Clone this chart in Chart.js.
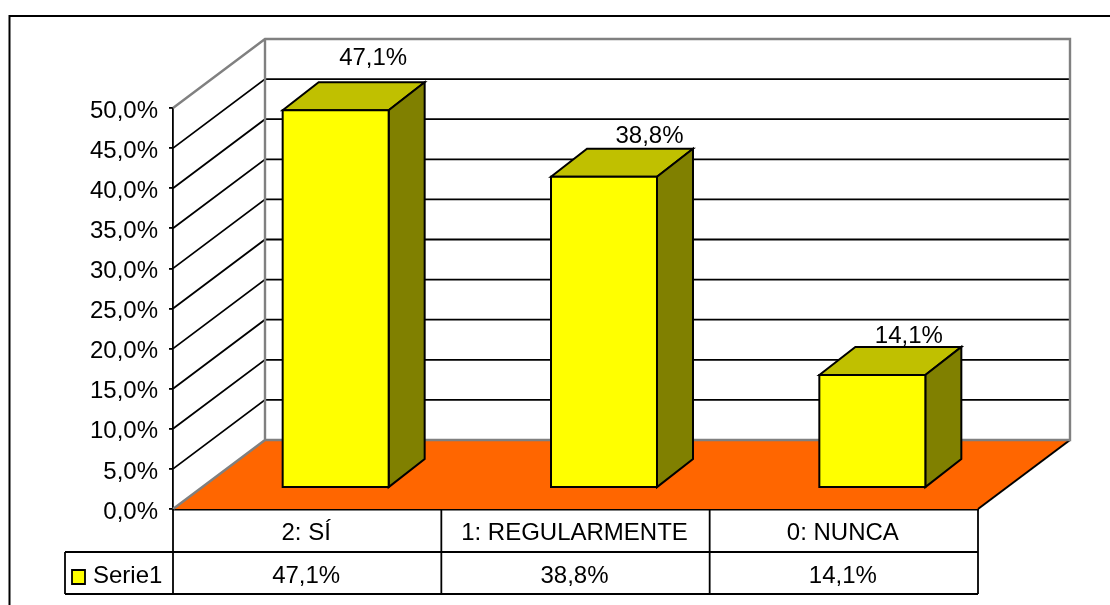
<!DOCTYPE html>
<html>
<head>
<meta charset="utf-8">
<style>
    html, body { margin: 0; padding: 0; background: #fff; overflow: hidden; }
    #box { position: relative; width: 1110px; height: 605px; }
</style>
<script src="https://cdn.jsdelivr.net/npm/chart.js@4"></script>
</head>
<body>
<div id="box"><canvas id="surveyChart" width="1110" height="605"></canvas></div>
<script>
'use strict';

const categories = ['2: SÍ', '1: REGULARMENTE', '0: NUNCA'];
const seriesName = 'Serie1';
const seriesValues = [47.1, 38.8, 14.1];
const yTicks = [0, 5, 10, 15, 20, 25, 30, 35, 40, 45, 50];

const FONT = '"Liberation Sans", Arial, sans-serif';
const FONT_SIZE = 24;

// how far the plot goes back into the page, and how far the bars sit in it
const DEPTH = { x: 92, y: -69 };
const BAR_SHIFT = { x: 28.5, y: -21 };
const BAR_DEPTH = { x: 36, y: -28 };
const BAR_LINE = 2;

// data labels were dragged around by hand in the original
const LABEL_NUDGE = [{ x: 37.5, y: -52 }, { x: 45.5, y: -40 }, { x: 36.5, y: -39 }];

function pct(v) {
    return v.toFixed(1).replace('.', ',') + '%';
}

function poly(ctx, pts, fill, stroke, width) {
    ctx.beginPath();
    pts.forEach((p, i) => {
        if (i === 0) ctx.moveTo(p[0], p[1]);
        else ctx.lineTo(p[0], p[1]);
    });
    ctx.closePath();
    if (fill) {
        ctx.fillStyle = fill;
        ctx.fill();
    }
    if (stroke) {
        ctx.strokeStyle = stroke;
        ctx.lineWidth = width;
        ctx.lineJoin = 'miter';
        ctx.stroke();
    }
}

function line(ctx, x1, y1, x2, y2, color, width) {
    ctx.beginPath();
    ctx.moveTo(x1, y1);
    ctx.lineTo(x2, y2);
    ctx.strokeStyle = color;
    ctx.lineWidth = width;
    ctx.stroke();
}

// frame, back wall, side wall and floor
const wallsPlugin = {
    id: 'walls',
    beforeDatasetsDraw(chart) {
        const ctx = chart.ctx,
            a = chart.chartArea,
            y = chart.scales.y,
            dx = DEPTH.x,
            dy = DEPTH.y;

        ctx.save();
        poly(ctx, [[a.left, a.bottom], [a.left + dx, a.bottom + dy], [a.right + dx, a.bottom + dy], [a.right, a.bottom]], '#ff6600');
        line(ctx, a.right, a.bottom, a.right + dx, a.bottom + dy, '#000', 2);

        yTicks.forEach(t => {
            if (t === 0 || t === 50) return;
            const py = y.getPixelForValue(t);
            ctx.beginPath();
            ctx.moveTo(a.left, py);
            ctx.lineTo(a.left + dx, py + dy);
            ctx.lineTo(a.right + dx, py + dy);
            ctx.strokeStyle = '#000';
            ctx.lineWidth = 1.8;
            ctx.stroke();
        });

        ctx.beginPath();
        ctx.moveTo(a.left, a.top);
        ctx.lineTo(a.left + dx, a.top + dy);
        ctx.lineTo(a.right + dx, a.top + dy);
        ctx.lineTo(a.right + dx, a.bottom + dy);
        ctx.lineTo(a.left + dx, a.bottom + dy);
        ctx.lineTo(a.left, a.bottom);
        ctx.moveTo(a.left + dx, a.top + dy);
        ctx.lineTo(a.left + dx, a.bottom + dy);
        ctx.strokeStyle = '#808080';
        ctx.lineWidth = 2.4;
        ctx.stroke();
        ctx.restore();
    },
    // the sides go down first, the library then paints the front on top
    beforeDatasetDraw(chart, args) {
        const ctx = chart.ctx,
            dx = BAR_DEPTH.x,
            dy = BAR_DEPTH.y;

        ctx.save();
        ctx.translate(BAR_SHIFT.x, BAR_SHIFT.y);
        args.meta.data.forEach(bar => {
            const p = bar.getProps(['x', 'y', 'base', 'width'], true),
                l = p.x - p.width / 2,
                r = p.x + p.width / 2;
            poly(ctx, [[l, p.y], [l + dx, p.y + dy], [r + dx, p.y + dy], [r, p.y]], '#c0c000', '#000', BAR_LINE);
            poly(ctx, [[r, p.y], [r + dx, p.y + dy], [r + dx, p.base + dy], [r, p.base]], '#808000', '#000', BAR_LINE);
        });
    },
    // the library insets bar borders, here the line has to sit on the edge
    afterDatasetDraw(chart, args) {
        const ctx = chart.ctx;
        args.meta.data.forEach(bar => {
            const p = bar.getProps(['x', 'y', 'base', 'width'], true),
                l = p.x - p.width / 2,
                r = p.x + p.width / 2;
            poly(ctx, [[l, p.y], [r, p.y], [r, p.base], [l, p.base]], null, '#000', BAR_LINE);
        });
        ctx.restore();
    },
    afterDatasetsDraw(chart) {
        const ctx = chart.ctx;
        ctx.save();
        ctx.font = FONT_SIZE + 'px ' + FONT;
        ctx.fillStyle = '#000';
        ctx.textAlign = 'center';
        ctx.textBaseline = 'middle';
        chart.getDatasetMeta(0).data.forEach((bar, i) => {
            ctx.fillText(pct(seriesValues[i]),
                bar.x + BAR_SHIFT.x + LABEL_NUDGE[i].x,
                bar.y + BAR_SHIFT.y + LABEL_NUDGE[i].y);
        });
        ctx.restore();
    },
    // data table under the axis, legend key included
    afterDraw(chart) {
        const ctx = chart.ctx,
            a = chart.chartArea,
            x = chart.scales.x,
            band = (a.right - a.left) / categories.length,
            rowTop = a.bottom + 43,
            rowBottom = a.bottom + 85,
            rowMid = (rowTop + rowBottom) / 2 + 3,
            legendLeft = a.left - 108;

        ctx.save();
        // outer frame of the chart object, cut off right and below
        ctx.beginPath();
        ctx.moveTo(9.5, chart.height);
        ctx.lineTo(9.5, 16);
        ctx.lineTo(chart.width, 16);
        ctx.strokeStyle = '#000';
        ctx.lineWidth = 2;
        ctx.stroke();

        line(ctx, legendLeft, rowTop, a.right, rowTop, '#000', 1.8);
        line(ctx, legendLeft, rowBottom, a.right, rowBottom, '#000', 1.8);
        line(ctx, legendLeft, rowTop, legendLeft, rowBottom, '#000', 1.8);
        for (let i = 0; i <= categories.length; i++) {
            const px = a.left + band * i;
            line(ctx, px, a.bottom, px, rowBottom, '#000', 1.8);
        }

        ctx.font = FONT_SIZE + 'px ' + FONT;
        ctx.fillStyle = '#000';
        ctx.textAlign = 'center';
        ctx.textBaseline = 'middle';
        seriesValues.forEach((v, i) => {
            ctx.fillText(pct(v), x.getPixelForValue(i) - 1, rowMid);
        });

        poly(ctx, [[legendLeft + 7, rowTop + 18], [legendLeft + 20, rowTop + 18], [legendLeft + 20, rowTop + 32], [legendLeft + 7, rowTop + 32]], '#ffff00', '#000', 1.8);
        ctx.fillStyle = '#000';
        ctx.textAlign = 'left';
        ctx.fillText(seriesName, legendLeft + 28, rowMid);
        ctx.restore();
    }
};

new Chart(document.getElementById('surveyChart'), {
    type: 'bar',
    data: {
        labels: categories,
        datasets: [{
            label: seriesName,
            data: seriesValues,
            backgroundColor: '#ffff00',
            borderWidth: 0,
            inflateAmount: 0,
            barPercentage: 0.395,
            categoryPercentage: 1,
            clip: false
        }]
    },
    options: {
        responsive: false,
        animation: false,
        layout: {
            padding: { top: 108, right: 132, bottom: 0, left: 0 }
        },
        plugins: {
            legend: { display: false },
            title: { display: false },
            tooltip: { enabled: false }
        },
        scales: {
            x: {
                afterFit(scale) {
                    scale.height = 96;
                },
                grid: { display: false },
                border: { display: true, color: '#000', width: 2.4 },
                ticks: {
                    color: '#000',
                    padding: 2,
                    labelOffset: -1,
                    maxRotation: 0,
                    autoSkip: false,
                    font: { family: FONT, size: FONT_SIZE }
                }
            },
            y: {
                min: 0,
                max: 50,
                afterFit(scale) {
                    scale.width = 173;
                },
                afterBuildTicks(scale) {
                    scale.ticks = yTicks.map(v => ({ value: v }));
                },
                grid: {
                    drawOnChartArea: false,
                    drawTicks: true,
                    tickLength: 4,
                    color: '#000',
                    lineWidth: 1.8
                },
                border: { display: true, color: '#000', width: 1.8 },
                ticks: {
                    color: '#000',
                    padding: 11,
                    labelOffset: 3,
                    callback: v => pct(v),
                    font: { family: FONT, size: FONT_SIZE }
                }
            }
        }
    },
    plugins: [wallsPlugin]
});
</script>
</body>
</html>
